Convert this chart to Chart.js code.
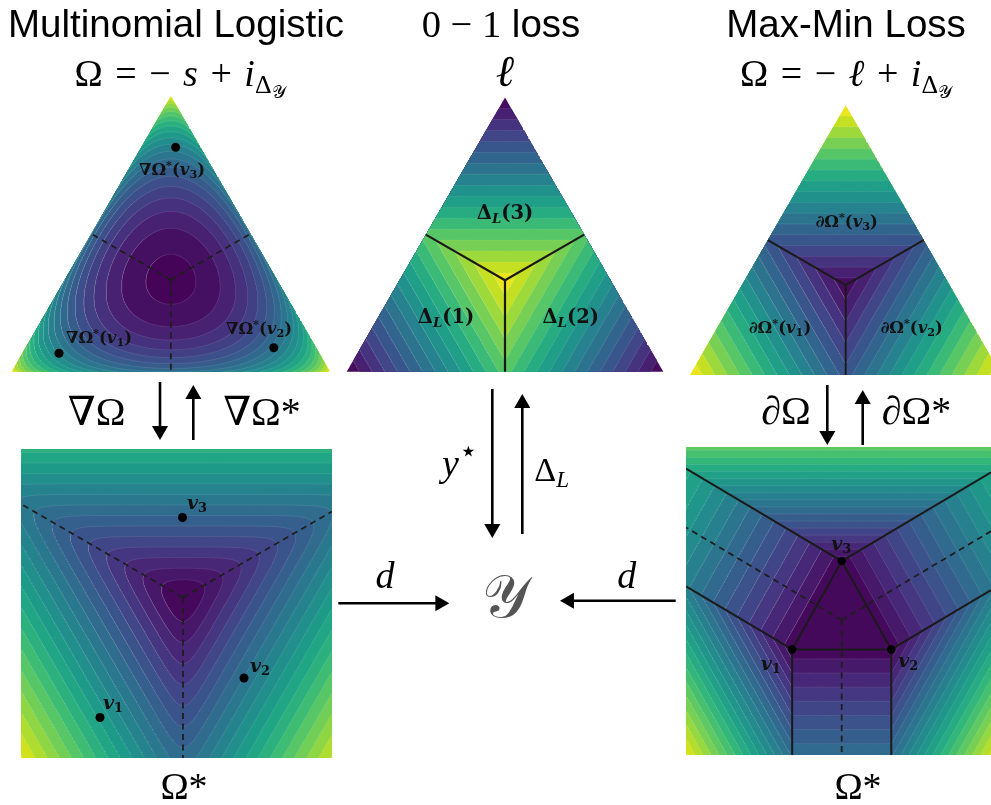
<!DOCTYPE html>
<html><head><meta charset="utf-8">
<script src="https://cdn.jsdelivr.net/npm/chart.js"></script>
<style>
html,body{margin:0;padding:0;background:#fff;}
#page{position:relative;width:991px;height:805px;overflow:hidden;background:#fff;}
canvas{position:absolute;}
.t{position:absolute;transform:translate(-50%,-50%);white-space:nowrap;line-height:1;color:#000;}
.sans{font-family:"Liberation Sans",Arial,sans-serif;}
.serif{font-family:"Liberation Serif","DejaVu Serif",serif;}
.lab{font-family:"DejaVu Serif","Liberation Serif",serif;font-weight:bold;color:#111;}
sub{font-size:0.68em;vertical-align:-0.28em;line-height:0;}
sup{font-size:0.68em;vertical-align:0.5em;line-height:0;}
</style></head><body><div id="page"></div>
<script>
// ================= DATA =================
const titles = ['Multinomial Logistic', '0 − 1 loss', 'Max-Min Loss'];
// filled-contour levels of each surface
const negEntropyLevels = [-1.0987, -1.08, -1.025, -0.97, -0.915, -0.86, -0.805, -0.75, -0.695, -0.64, -0.585, -0.53, -0.475, -0.42, -0.365, -0.31, -0.255, -0.2, -0.145, -0.09, -0.035, 0.02];
const zeroOneLossLevels = [0, 0.04, 0.08, 0.12, 0.16, 0.2, 0.24, 0.28, 0.32, 0.36, 0.4, 0.44, 0.48, 0.52, 0.56, 0.6, 0.64, 0.68];
const maxMinLevels = [-0.68, -0.64, -0.6, -0.56, -0.52, -0.48, -0.44, -0.4, -0.36, -0.32, -0.28, -0.24, -0.2, -0.16, -0.12, -0.08, -0.04, 0];
const logSumExpLevels = [1.09, 1.9, 2.95, 4.0, 5.05, 6.1, 7.15, 8.2, 9.25, 10.3, 11.35, 12.4, 13.45, 14.5, 15.55, 16.6, 17.65, 18.7, 19.75, 20.8, 21.85, 22.9];
const maxMinConjLevels = [0.64, 0.72, 0.8, 0.88, 0.96, 1.04, 1.12, 1.2, 1.28, 1.36, 1.44, 1.52, 1.6, 1.68, 1.76, 1.84, 1.92, 2.0, 2.08, 2.16, 2.24, 2.32, 2.4];
// ∇Ω*(v1), ∇Ω*(v2), ∇Ω*(v3) on the simplex (p1, p2, p3)
const softmaxPoints = [[0.818, 0.115, 0.067], [0.133, 0.780, 0.087], [0.078, 0.108, 0.814]];
// v1, v2, v3 in the dual plane of the multinomial logistic panel
const dualPointsLogistic = [[-1.66, -2.40], [1.22, -1.61], [-0.01, 1.60]];
// v1, v2, v3 in the dual plane of the max-min panel
const dualPointsMaxMin = [[-0.866, -0.5], [0.866, -0.5], [0, 1]];
const pointNames = ['1', '2', '3'];

// ================= LAYOUT / STYLE =================
const SQ3 = Math.sqrt(3), H = SQ3 / 2;
const U = [[-SQ3 / 2, -0.5], [SQ3 / 2, -0.5], [0, 1]];
const layout = {
  tl: {left: 10, top: 94, width: 322, height: 280, ox: 11.7, oy: 371.7, sx: 318.3, sy: 318.3},
  tm: {left: 345, top: 94, width: 321, height: 280, ox: 346.7, oy: 371.7, sx: 316.6, sy: 316.6},
  tr: {left: 686, top: 100, width: 305, height: 278, ox: 690, oy: 375, sx: 311.4, sy: 311.4},
  bl: {left: 21, top: 449, width: 311, height: 309, ox: 183, oy: 597.5, sx: 50, sy: 50},
  br: {left: 686, top: 447, width: 305, height: 308, ox: 841.7, oy: 620, sx: 57.2, sy: 58.9}
};
const VIR = [[68,1,84],[71,19,101],[72,36,117],[70,52,128],[65,68,135],[59,82,139],[53,95,141],[47,108,142],[42,120,142],[37,132,142],[33,145,140],[30,156,137],[34,168,132],[47,180,124],[68,191,112],[94,201,98],[122,209,81],[155,217,60],[189,223,38],[223,227,24],[253,231,37]];
function viridis(t) {
  t = Math.max(0, Math.min(1, t)) * 20; const i = Math.min(19, Math.floor(t)), f = t - i;
  const a = VIR[i], b = VIR[i + 1];
  return 'rgb(' + [0, 1, 2].map(k => Math.round(a[k] + (b[k] - a[k]) * f)).join(',') + ')';
}
const CONTOUR_LINE = 'rgba(255,255,255,0.14)';

// ================= FIELDS =================
function bary(X, Y) { const p3 = Y / H, p2 = X - 0.5 * p3; return [1 - p2 - p3, p2, p3]; }
function negEntropy(X, Y) { const p = bary(X, Y); let s = 0; for (const v of p) if (v > 1e-12) s += v * Math.log(v); return s; }
function maxProb(X, Y) { const p = bary(X, Y); return Math.max(p[0], p[1], p[2]); }
function maxProbMinusOne(X, Y) { return maxProb(X, Y) - 1; }
const LSE_GAIN = 5;
function logSumExp(X, Y) {
  const a = LSE_GAIN * (U[0][0] * X + U[0][1] * Y), b = LSE_GAIN * (U[1][0] * X + U[1][1] * Y), c = LSE_GAIN * Y;
  const m = Math.max(a, b, c); return m + Math.log(Math.exp(a - m) + Math.exp(b - m) + Math.exp(c - m));
}
function maxMinConj(X, Y) {
  let f = 2 / 3;
  for (const u of U) { const th = (2 / 3) * (u[0] * X + u[1] * Y); f = Math.max(f, th, (1 - th) / 2); }
  return f;
}

// ================= GEOMETRY HELPERS =================
function ranges(L) { return {xmin: (L.left - L.ox) / L.sx, xmax: (L.left + L.width - L.ox) / L.sx, ymin: (L.oy - (L.top + L.height)) / L.sy, ymax: (L.oy - L.top) / L.sy}; }
function rectOf(L) { const r = ranges(L); return [[r.xmin, r.ymin], [r.xmax, r.ymin], [r.xmax, r.ymax], [r.xmin, r.ymax]]; }
function rayClip(poly, c, a) {
  const dx = Math.cos(a), dy = Math.sin(a); let best = Infinity;
  for (let i = 0; i < poly.length; i++) {
    const [ax, ay] = poly[i], [bx, by] = poly[(i + 1) % poly.length];
    const ex = bx - ax, ey = by - ay, den = dx * ey - dy * ex;
    if (Math.abs(den) < 1e-12) continue;
    const wx = ax - c[0], wy = ay - c[1];
    const r = (wx * ey - wy * ex) / den, t = (wx * dy - wy * dx) / den;
    if (r > 1e-12 && t >= -1e-9 && t <= 1 + 1e-9) best = Math.min(best, r);
  }
  return best;
}
function rayEnd(poly, p, dir) { const a = Math.atan2(dir[1], dir[0]); const r = rayClip(poly, p, a); return {x: p[0] + r * Math.cos(a), y: p[1] + r * Math.sin(a)}; }
function contourLayers(field, levels, clip, c, reverse) {
  const n = levels.length - 1, lo = levels[0], hi = levels[n];
  const angles = [];
  for (let j = 0; j < 900; j++) angles.push(-Math.PI + 2 * Math.PI * j / 900);
  clip.forEach(v => angles.push(Math.atan2(v[1] - c[1], v[0] - c[0])));
  angles.sort((a, b) => a - b);
  const rmax = angles.map(a => rayClip(clip, c, a));
  const fc = field(c[0], c[1]);
  const fills = [], lines = [];
  for (let k = n - 1; k >= 0; k--) {
    const L = levels[k + 1];
    if (fc > L) break;
    let t = ((levels[k] + levels[k + 1]) / 2 - lo) / (hi - lo);
    if (reverse) t = 1 - t;
    const poly = [], ring = []; let interior = 0;
    for (let j = 0; j < angles.length; j++) {
      const dx = Math.cos(angles[j]), dy = Math.sin(angles[j]), R = rmax[j];
      let r, edge;
      if (field(c[0] + R * dx, c[1] + R * dy) <= L) { r = R; edge = true; }
      else {
        let a = 0, b = R;
        for (let it = 0; it < 30; it++) { const m = (a + b) / 2; if (field(c[0] + m * dx, c[1] + m * dy) <= L) a = m; else b = m; }
        r = (a + b) / 2; edge = false; interior++;
      }
      const p = {x: c[0] + r * dx, y: c[1] + r * dy};
      poly.push(p); ring.push(edge ? {x: null, y: null} : p);
    }
    fills.push({data: poly, showLine: true, fill: 'shape', backgroundColor: viridis(t), borderWidth: 0, pointRadius: 0});
    if (interior) { ring.push(ring[0]); lines.push({data: ring, showLine: true, fill: false, borderColor: CONTOUR_LINE, borderWidth: 0.7, pointRadius: 0}); }
  }
  return fills.concat(lines);
}
function segment(a, b, style) { return Object.assign({data: [a, b], showLine: true, fill: false, pointRadius: 0, borderColor: '#1b1b1b', borderWidth: 2}, style); }
function dots(pts, r) { return {data: pts, showLine: false, pointRadius: r, pointBackgroundColor: '#000', pointBorderWidth: 0}; }
const dashed = {borderDash: [6, 4.5], borderWidth: 1.8, borderColor: '#1e1e1e'};

const page = document.getElementById('page');
function makeChart(L, datasets, rng, reverseY) {
  const r = rng || ranges(L);
  datasets.forEach((d, i) => { d.order = -i; });
  const cv = document.createElement('canvas');
  cv.width = L.width; cv.height = L.height;
  Object.assign(cv.style, {left: L.left + 'px', top: L.top + 'px', width: L.width + 'px', height: L.height + 'px'});
  page.appendChild(cv);
  return new Chart(cv, {
    type: 'scatter', data: {datasets},
    options: {
      responsive: false, maintainAspectRatio: false, animation: false, events: [], devicePixelRatio: 1,
      layout: {padding: 0, autoPadding: false},
      plugins: {legend: {display: false}, tooltip: {enabled: false}, title: {display: false}},
      scales: {x: {type: 'linear', min: r.xmin, max: r.xmax, display: false}, y: {type: 'linear', min: r.ymin, max: r.ymax, display: false, reverse: !!reverseY}}
    }
  });
}

// ================= PANELS =================
const tri = [[0, 0], [1, 0], [0.5, H]];
const cen = [0.5, H / 3];
const mids = [[0.25, H / 2], [0.75, H / 2], [0.5, 0]];
const P = (a) => ({x: a[0], y: a[1]});
const baryToXY = p => ({x: p[1] + 0.5 * p[2], y: H * p[2]});

// top-left: negative entropy on the simplex
makeChart(layout.tl, [
  ...contourLayers(negEntropy, negEntropyLevels, tri, cen, false),
  ...mids.map(m => segment(P(cen), P(m), dashed)),
  dots(softmaxPoints.map(baryToXY), 4.5)
]);
// top-middle: 0-1 loss  ℓ = 1 - max p
const gLevels = zeroOneLossLevels.map(v => 1 - v).reverse();
makeChart(layout.tm, [
  ...contourLayers(maxProb, gLevels, tri, cen, true),
  ...mids.map(m => segment(P(cen), P(m), {borderWidth: 2.2, borderColor: '#1a1a1a'}))
]);
// top-right: Ω = -ℓ = max p - 1
makeChart(layout.tr, [
  ...contourLayers(maxProbMinusOne, maxMinLevels, tri, cen, false),
  ...mids.map(m => segment(P(cen), P(m), {borderWidth: 1.9, borderColor: '#1a1a1a'}))
]);
// bottom-left: log-sum-exp
const rectBL = rectOf(layout.bl);
makeChart(layout.bl, [
  ...contourLayers(logSumExp, logSumExpLevels, rectBL, [0, 0], false),
  ...U.map(u => segment({x: 0, y: 0}, rayEnd(rectBL, [0, 0], [-u[0], -u[1]]), dashed)),
  dots(dualPointsLogistic.map(P), 4.5)
]);
// bottom-right: conjugate of the max-min regularizer
const rectBR = rectOf(layout.br);
const [w1, w2, w3] = dualPointsMaxMin;
const solid = {borderWidth: 2, borderColor: '#1a1a1a'};
makeChart(layout.br, [
  ...contourLayers(maxMinConj, maxMinConjLevels, rectBR, [0, 0], false),
  ...U.map(u => segment({x: 0, y: 0}, rayEnd(rectBR, [0, 0], [-u[0], -u[1]]), dashed)),
  segment(P(w1), P(w2), solid), segment(P(w2), P(w3), solid), segment(P(w3), P(w1), solid),
  segment(P(w3), rayEnd(rectBR, w3, [-U[1][0], -U[1][1]]), solid),
  segment(P(w3), rayEnd(rectBR, w3, [-U[0][0], -U[0][1]]), solid),
  segment(P(w1), rayEnd(rectBR, w1, [-U[1][0], -U[1][1]]), solid),
  segment(P(w1), rayEnd(rectBR, w1, [0, -1]), solid),
  segment(P(w2), rayEnd(rectBR, w2, [-U[0][0], -U[0][1]]), solid),
  segment(P(w2), rayEnd(rectBR, w2, [0, -1]), solid),
  dots(dualPointsMaxMin.map(P), 4.2)
]);

// ================= ARROWS (page overlay) =================
const arrowSpecs = [
  {x0: 160, y0: 382, x1: 160, y1: 440}, {x0: 193.3, y0: 440, x1: 193.3, y1: 385},
  {x0: 827.3, y0: 385, x1: 827.3, y1: 445}, {x0: 862.7, y0: 445, x1: 862.7, y1: 390},
  {x0: 492.3, y0: 389, x1: 492.3, y1: 538}, {x0: 522.3, y0: 534, x1: 522.3, y1: 394},
  {x0: 338.3, y0: 603.3, x1: 449.3, y1: 603.3}, {x0: 675.7, y0: 600.7, x1: 560, y1: 600.7}
];
const HEAD = 9.3;
makeChart({left: 0, top: 0, width: 991, height: 805}, arrowSpecs.map(a => {
  const dx = a.x1 - a.x0, dy = a.y1 - a.y0, len = Math.hypot(dx, dy), ux = dx / len, uy = dy / len;
  return {data: [{x: a.x0, y: a.y0}, {x: a.x1 - ux * HEAD, y: a.y1 - uy * HEAD}], showLine: true, fill: false,
    borderColor: '#000', borderWidth: 2.6, pointStyle: 'triangle', pointRadius: [0, HEAD],
    rotation: [0, Math.atan2(ux, -uy) * 180 / Math.PI], pointBackgroundColor: '#000', pointBorderWidth: 0};
}), {xmin: 0, xmax: 991, ymin: 0, ymax: 805}, true);

// ================= TEXT =================
function addText(html, x, y, cls, fs, extra) {
  const d = document.createElement('div'); d.className = 't ' + cls; d.innerHTML = html;
  Object.assign(d.style, {left: x + 'px', top: y + 'px', fontSize: fs + 'px'}, extra || {});
  page.appendChild(d);
}
addText(titles[0], 176, 24, 'sans', 38.5);
addText(titles[1].replace('0 − 1', '<span class="serif">0 − 1</span>'), 501, 24, 'sans', 38.5);
addText(titles[2], 846, 24, 'sans', 38.5);
const iDelta = '<i>i</i><sub>Δ<sub>𝒴</sub></sub>';
const eqStyle = {wordSpacing: '3px'};
addText('Ω = − <i>s</i> + ' + iDelta, 180, 73, 'serif', 38, eqStyle);
addText('<i>ℓ</i>', 505, 72, 'serif', 44);
addText('Ω = − <i>ℓ</i> + ' + iDelta, 846, 73, 'serif', 38, eqStyle);
addText('∇Ω', 96.7, 411.5, 'serif', 40);
addText('∇Ω*', 262, 411.5, 'serif', 40);
addText('∂Ω', 786, 410.5, 'serif', 40);
addText('∂Ω*', 916.5, 410.5, 'serif', 40);
addText('<i>y</i><sup style="font-size:0.8em">⋆</sup>', 460, 463, 'serif', 38);
addText('Δ<sub><i>L</i></sub>', 551.7, 470, 'serif', 34);
addText('<i>d</i>', 385, 575, 'serif', 38);
addText('<i>d</i>', 626.7, 575, 'serif', 38);
addText('𝒴', 505, 597, 'serif', 60, {color: '#555'});
addText('Ω*', 184, 786, 'serif', 38);
addText('Ω*', 858, 786, 'serif', 38);
const gradLab = i => '∇Ω<sup>*</sup>(<i>v</i><sub>' + pointNames[i] + '</sub>)';
const subLab = i => '∂Ω<sup>*</sup>(<i>v</i><sub>' + pointNames[i] + '</sub>)';
const regLab = i => 'Δ<sub><i>L</i></sub>(' + pointNames[i] + ')';
const vLab = i => '<i>v</i><sub>' + pointNames[i] + '</sub>';
[[99, 338], [259, 329], [172, 170]].forEach((p, i) => addText(gradLab(i), p[0], p[1], 'lab', 16.5));
[[446, 317], [570.7, 317], [505, 212.7]].forEach((p, i) => addText(regLab(i), p[0], p[1], 'lab', 19.5));
[[780, 328.3], [911.7, 328.3], [846.7, 221.7]].forEach((p, i) => addText(subLab(i), p[0], p[1], 'lab', 16.5));
[[113, 702], [260, 665], [197, 502]].forEach((p, i) => addText(vLab(i), p[0], p[1], 'lab', 19));
[[770.7, 663.3], [908.3, 660], [841.3, 543.3]].forEach((p, i) => addText(vLab(i), p[0], p[1], 'lab', 19));
</script></body></html>
